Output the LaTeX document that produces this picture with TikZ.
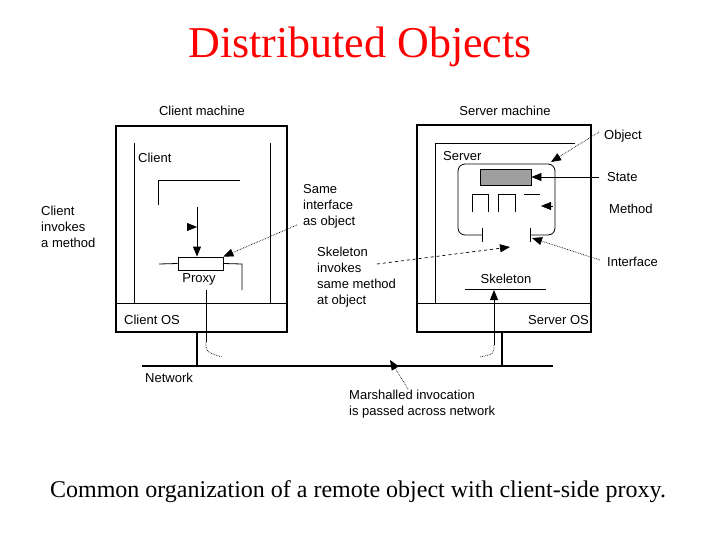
\documentclass[tikz,border=0pt]{standalone}
\usepackage{fontspec}
\setmainfont{Liberation Serif}
\newfontfamily\lsans{Liberation Sans}
\usetikzlibrary{arrows.meta}
\begin{document}
\begin{tikzpicture}[x=1pt,y=-1pt,
  lab/.style={font=\lsans\fontsize{13}{16}\selectfont,inner sep=0pt,align=left},
  ln/.style={line width=0.8pt},
  tip/.style={-{Triangle[length=10pt,width=8pt]}},
  dot/.style={densely dotted,line width=0.7pt},
  dsh/.style={dashed,line width=0.7pt}]
\useasboundingbox (0,0) rectangle (720,540);
\node[font=\fontsize{44}{48}\selectfont,text=red] (title) at (360,47) {Distributed Objects};
\node[font=\fontsize{24}{28}\selectfont] (cap) at (358,492) {Common organization of a remote object with client-side proxy.};
% client machine
\draw[line width=1.6pt] (116,126) rectangle (287,332);
\draw[ln] (116,303) -- (287,303);
\draw[ln] (134,143) -- (134,303) (270,143) -- (270,303);
\node[lab,anchor=west] (client) at (138,158) {Client};
\node[lab,anchor=west] (cos) at (124,320) {Client OS};
\node[lab] (cm) at (202,111) {Client machine};
\draw[ln] (158,205) -- (158,180) -- (240,180);
\node[draw,ln,minimum width=45pt,minimum height=13pt,inner sep=0pt] (proxy) at (200.5,263.5) {};
\node[lab] (pl) at (199,279) {Proxy};
\draw[ln] (159,264) -- (proxy.west);
\draw[ln] (proxy.east) -- (242,264) -- (242,290);
\coordinate (a1) at (197,207);
\draw[ln,tip] (a1) -- (proxy.north -| a1);
\coordinate (a2) at (188,227); \coordinate (a3) at (197,227);
\draw[tip] (a2) -- (a3);
\coordinate (pc1) at (206,290); \coordinate (pc2) at (206,342); \coordinate (pc3) at (222,357);
\draw[ln] (pc1) -- (pc2);
\draw[dot] (pc2) .. controls (206,352) .. (pc3);
% network
\coordinate (n1) at (142,366); \coordinate (n2) at (553,366);
\draw[line width=2.8pt] (n1) -- (n2);
\draw[line width=2.8pt] (197,332) -- (197,366);
\draw[line width=2.8pt] (502,332) -- (502,366);
\node[lab,anchor=west] (net) at (145,378) {Network};
% server machine
\draw[line width=1.6pt] (417,125) rectangle (591,332);
\draw[ln] (417,303) -- (591,303);
\draw[ln] (435,303) -- (435,143) -- (575,143);
\node[lab,anchor=west] (server) at (443,156) {Server};
\node[lab,anchor=east] (sos) at (589,320) {Server OS};
\node[lab] (sm) at (505,111) {Server machine};
% object
\draw[ln,rounded corners=7pt] (482,235) -- (458,235) -- (458,164) -- (555,164) -- (555,235) -- (530,235);
\draw[ln] (482,228) -- (482,242) (530,228) -- (530,242);
\node[draw,ln,fill=gray!75,minimum width=51pt,minimum height=16pt,inner sep=0pt] (state) at (505.5,177) {};
\draw[ln] (472,212) -- (472,194) -- (488,194) -- (488,212);
\draw[ln] (498,212) -- (498,194) -- (515,194) -- (515,212);
\draw[ln] (524,194) -- (540,194);
\draw[ln] (465,289) -- (546,289);
\node[lab] (skel) at (506,279) {Skeleton};
\coordinate (sc1) at (494,345); \coordinate (sc2) at (480,357);
\draw[ln,tip] (sc1) -- (494,290);
\draw[dot] (sc1) .. controls (494,354) .. (sc2);
% right labels
\node[lab,anchor=west] (obj) at (604,136) {Object};
\node[lab,anchor=west] (st) at (607,177) {State};
\node[lab,anchor=west] (meth) at (609,209) {Method};
\node[lab,anchor=west] (intf) at (607,262) {Interface};
\coordinate (o1) at (599,132); \coordinate (o2) at (551,162);
\draw[dot,tip] (o1) -- (o2);
\coordinate (s1) at (599,177);
\draw[ln,tip] (s1) -- (state.east);
\coordinate (m1) at (553,206); \coordinate (m2) at (541,206);
\draw[tip] (m1) -- (m2);
\coordinate (i1) at (600,260); \coordinate (i2) at (532,238);
\draw[dot,tip] (i1) -- (i2);
% middle labels
\node[lab,anchor=north west] (same) at (303,184) {Same\\interface\\as object};
\coordinate (sa1) at (297,225);
\draw[dot,tip] (sa1) -- (proxy.north east);
\node[lab,anchor=north west] (sk) at (317,247) {Skeleton\\invokes\\same method\\at object};
\coordinate (k1) at (377,264); \coordinate (k2) at (510,247);
\draw[dsh,tip] (k1) -- (k2);
\node[lab,anchor=north west] (ci) at (41,206) {Client\\invokes\\a method};
\node[lab,anchor=north west] (mar) at (349,390) {Marshalled invocation\\is passed across network};
\coordinate (ma1) at (408,389); \coordinate (ma2) at (390,360);
\draw[dot,tip] (ma1) -- (ma2);
\end{tikzpicture}
\end{document}
